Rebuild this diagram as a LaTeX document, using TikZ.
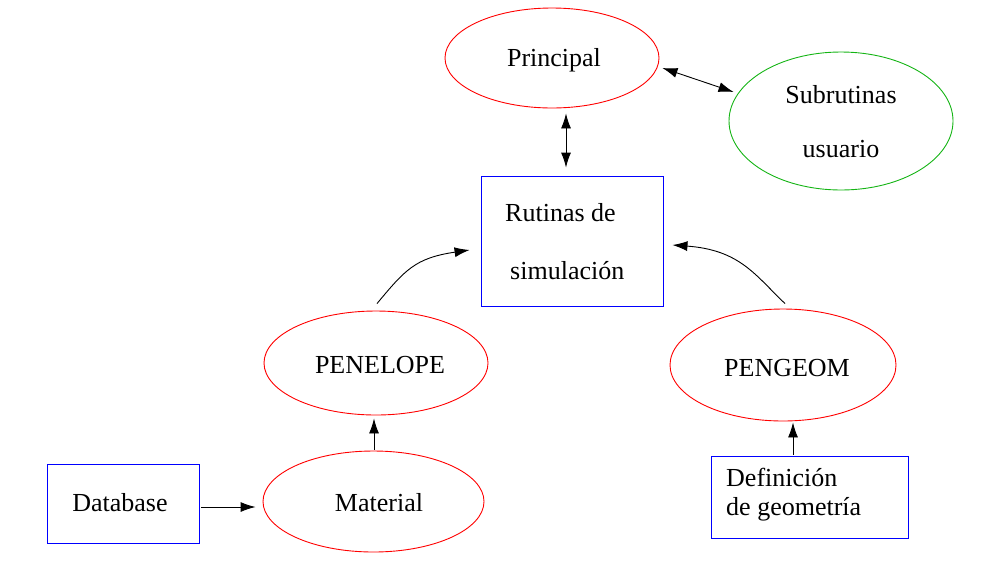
\documentclass[tikz,border=0pt]{standalone}
\usepackage{fontspec}
\setmainfont{Liberation Serif}
\usetikzlibrary{shapes.geometric,arrows.meta}
\definecolor{gr}{RGB}{20,180,20}
\tikzset{
  ell/.style={draw=red, line width=0.9pt, ellipse, inner sep=0pt},
  box/.style={draw=blue, line width=0.9pt, rectangle, inner sep=0pt},
  txt/.style={inner sep=0pt, font=\fontsize{26}{30}\selectfont},
  arr/.style={line width=0.9pt, -{Latex[length=15pt,width=10pt]}},
  darr/.style={line width=0.9pt, {Latex[length=15pt,width=10pt]}-{Latex[length=15pt,width=10pt]}}
}
\begin{document}
\begin{tikzpicture}[x=1pt,y=-1pt]
\useasboundingbox (0,0) rectangle (1008,579);
% nodes
\node[ell, minimum width=214pt, minimum height=100pt] (prin) at (552,58) {};
\node[txt] (tprin) at (554,60) {Principal};
\node[ell, draw=gr, minimum width=224pt, minimum height=138pt] (sub) at (841,121) {};
\node[txt] (tsub1) at (841,95) {Subrutinas};
\node[txt] (tsub2) at (841,149) {usuario};
\node[box, minimum width=182pt, minimum height=130pt] (rut) at (572,241) {};
\node[txt, anchor=west] (trut1) at (505,213) {Rutinas de};
\node[txt, anchor=west] (trut2) at (510,271) {simulación};
\node[ell, minimum width=224pt, minimum height=104pt] (pen) at (376,363) {};
\node[txt] (tpen) at (380,365) {PENELOPE};
\node[ell, minimum width=226pt, minimum height=112pt] (geo) at (783,365) {};
\node[txt] (tgeo) at (787,368) {PENGEOM};
\node[box, minimum width=152pt, minimum height=79pt] (db) at (123,503.5) {};
\node[txt] (tdb) at (120,503) {Database};
\node[ell, minimum width=221pt, minimum height=101pt] (mat) at (373.5,501.5) {};
\node[txt] (tmat) at (379,503) {Material};
\node[box, minimum width=197pt, minimum height=82pt] (def) at (809.5,497) {};
\node[txt, anchor=west] (tdef1) at (726,477) {Definición};
\node[txt, anchor=west] (tdef2) at (726,509) {de geometría};
% connectors
\draw[darr] ([xshift=14pt,yshift=-5pt]prin.south) -- ([xshift=-6pt,yshift=8pt]rut.north);
\draw[darr] ([xshift=3pt,yshift=-10pt]prin.east) -- ([xshift=5pt,yshift=29pt]sub.west);
\draw[arr] ([xshift=1pt,yshift=7pt]pen.north) .. controls (405,270) and (415,258) .. ([xshift=-11pt,yshift=-9pt]rut.west);
\draw[arr] ([xshift=2pt,yshift=5pt]geo.north) .. controls (755,275) and (740,250) .. ([xshift=9pt,yshift=-4pt]rut.east);
\draw[arr] ([xshift=0.5pt,yshift=1pt]mat.north) -- ([xshift=-2pt,yshift=-3pt]pen.south);
\draw[arr] ([xshift=2pt,yshift=-3.5pt]db.east) -- ([xshift=-7pt,yshift=-5.5pt]mat.west);
\draw[arr] ([xshift=-16.5pt,yshift=1pt]def.north) -- ([xshift=10pt,yshift=-1pt]geo.south);
\end{tikzpicture}
\end{document}
